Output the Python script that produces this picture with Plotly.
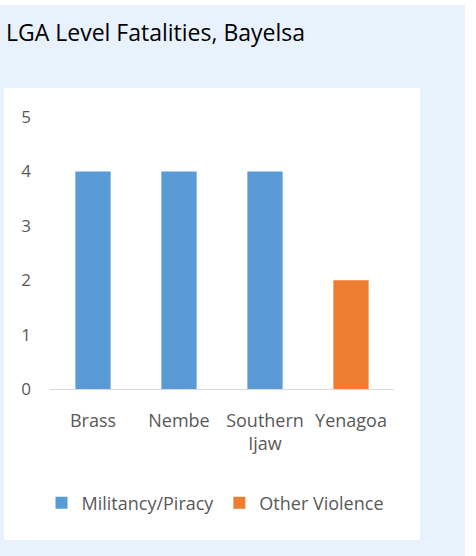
import plotly.graph_objects as go

categories = ["Brass", "Nembe", "Southern<br>Ijaw", "Yenagoa"]
militancy = [4, 4, 4, None]
other_violence = [None, None, None, 2]
y_ticks = [0, 1, 2, 3, 4, 5]

W, H = 476, 556
L, R, T, B = 50, 394, 117, 389
pw, ph = R - L, B - T

def px(x):
    return (x - L) / pw

def py(y):
    return (B - y) / ph

font_family = "'Open Sans', Lato, sans-serif"
gray = "#595959"

fig = go.Figure()
fig.add_trace(go.Bar(x=categories, y=militancy, name="Militancy/Piracy",
                     marker=dict(color="#5B9BD5", line=dict(width=0))))
fig.add_trace(go.Bar(x=categories, y=other_violence, name="Other Violence",
                     marker=dict(color="#ED7D31", line=dict(width=0))))

fig.update_layout(
    width=W, height=H,
    margin=dict(l=L, r=W - R, t=T, b=H - B, pad=0),
    paper_bgcolor="#E8F2FC",
    plot_bgcolor="rgba(0,0,0,0)",
    barmode="overlay",
    bargap=0.59,
    showlegend=True,
    legend=dict(orientation="h", x=px(215), xanchor="center", y=py(503), yanchor="middle",
                font=dict(family=font_family, size=18, color=gray),
                bgcolor="rgba(0,0,0,0)", itemwidth=30, traceorder="normal"),
    xaxis=dict(showgrid=False, showline=True, linecolor="#D9D9D9", linewidth=1,
               ticks="", tickfont=dict(family=font_family, size=18, color=gray),
               ticklabelstandoff=15, fixedrange=True),
    yaxis=dict(range=[0, 5], tickvals=y_ticks, showgrid=False, showline=False,
               zeroline=False, ticks="", tickfont=dict(family=font_family, size=17, color=gray),
               ticklabelstandoff=18, fixedrange=True),
    shapes=[
        dict(type="rect", xref="paper", yref="paper", x0=px(4), x1=px(420), y0=py(540), y1=py(88),
             fillcolor="white", line=dict(width=0), layer="below"),
        dict(type="rect", xref="paper", yref="paper", x0=px(465), x1=px(480), y0=py(560), y1=py(-5),
             fillcolor="white", line=dict(width=0), layer="below"),
        dict(type="rect", xref="paper", yref="paper", x0=px(-5), x1=px(480), y0=py(5), y1=py(-5),
             fillcolor="white", line=dict(width=0), layer="below"),
    ],
    annotations=[
        dict(text="LGA Level Fatalities, Bayelsa", xref="paper", yref="paper",
             x=px(4), y=py(32), xanchor="left", yanchor="middle", showarrow=False,
             font=dict(family=font_family, size=23, color="#000000")),
    ],
)

fig.write_html("out.html", config={"displayModeBar": False},
               post_script="document.body.style.margin='0';document.body.style.overflow='hidden';")
